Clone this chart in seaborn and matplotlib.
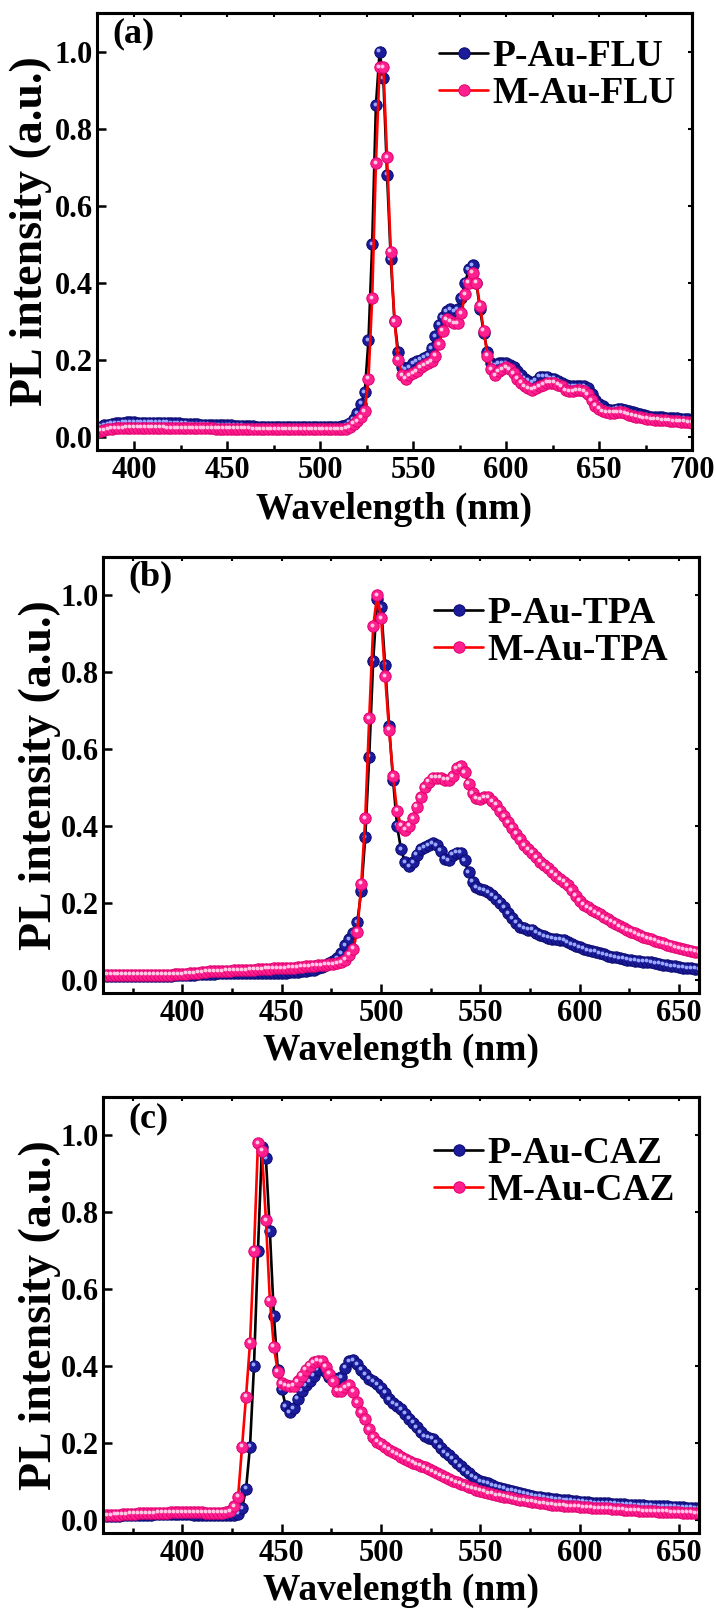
import numpy as np
import pandas as pd
import matplotlib
matplotlib.use("Agg")
import matplotlib.pyplot as plt
import matplotlib.transforms as mtransforms
from matplotlib.ticker import MultipleLocator, NullLocator
import seaborn as sns

# ---------------- data ----------------
WL_A = np.arange(380, 701, 2)
WL_BC = np.arange(360, 661, 2)

P_AU_FLU = [
    0.022, 0.026, 0.029, 0.031, 0.033, 0.034, 0.035, 0.036, 0.037, 0.037,  # 380
    0.037, 0.036, 0.036, 0.036, 0.036, 0.036, 0.036, 0.036, 0.036, 0.036,  # 400
    0.035, 0.035, 0.034, 0.033, 0.033, 0.032, 0.032, 0.032, 0.031, 0.031,  # 420
    0.031, 0.030, 0.030, 0.030, 0.030, 0.029, 0.029, 0.028, 0.028, 0.028,  # 440
    0.027, 0.027, 0.027, 0.026, 0.026, 0.026, 0.026, 0.025, 0.025, 0.025,  # 460
    0.025, 0.025, 0.025, 0.025, 0.025, 0.025, 0.025, 0.025, 0.025, 0.025,  # 480
    0.025, 0.025, 0.025, 0.025, 0.025, 0.026, 0.027, 0.030, 0.036, 0.045,  # 500
    0.060, 0.085, 0.115, 0.250, 0.500, 0.860, 1.000, 0.930, 0.680, 0.460,  # 520
    0.300, 0.220, 0.180, 0.175, 0.180, 0.190, 0.195, 0.200, 0.205, 0.210,  # 540
    0.230, 0.260, 0.290, 0.310, 0.325, 0.330, 0.325, 0.330, 0.360, 0.400,  # 560
    0.435, 0.445, 0.400, 0.330, 0.270, 0.220, 0.190, 0.185, 0.190, 0.190,  # 580
    0.190, 0.185, 0.180, 0.170, 0.160, 0.150, 0.145, 0.140, 0.145, 0.155,  # 600
    0.155, 0.155, 0.150, 0.150, 0.145, 0.140, 0.135, 0.130, 0.130, 0.130,  # 620
    0.130, 0.130, 0.125, 0.110, 0.095, 0.085, 0.078, 0.072, 0.070, 0.070,  # 640
    0.072, 0.072, 0.070, 0.066, 0.063, 0.060, 0.058, 0.056, 0.054, 0.052,  # 660
    0.050, 0.050, 0.050, 0.049, 0.048, 0.047, 0.047, 0.046, 0.046, 0.045,  # 680
    0.044,                                                                  # 700
]
M_AU_FLU = [
    0.012, 0.015, 0.017, 0.019, 0.020, 0.021, 0.022, 0.022, 0.023, 0.023,  # 380
    0.023, 0.023, 0.023, 0.023, 0.023, 0.023, 0.023, 0.023, 0.023, 0.022,  # 400
    0.022, 0.022, 0.022, 0.022, 0.022, 0.021, 0.021, 0.021, 0.021, 0.021,  # 420
    0.021, 0.021, 0.020, 0.020, 0.020, 0.020, 0.020, 0.020, 0.020, 0.020,  # 440
    0.020, 0.020, 0.019, 0.019, 0.019, 0.019, 0.019, 0.019, 0.019, 0.019,  # 460
    0.019, 0.019, 0.019, 0.019, 0.019, 0.019, 0.019, 0.019, 0.019, 0.019,  # 480
    0.019, 0.019, 0.019, 0.019, 0.019, 0.019, 0.019, 0.020, 0.024, 0.033,  # 500
    0.040, 0.050, 0.065, 0.150, 0.360, 0.710, 0.960, 0.960, 0.725, 0.480,  # 520
    0.300, 0.200, 0.160, 0.150, 0.160, 0.165, 0.170, 0.180, 0.185, 0.190,  # 540
    0.195, 0.210, 0.240, 0.275, 0.305, 0.300, 0.295, 0.295, 0.320, 0.370,  # 560
    0.400, 0.425, 0.400, 0.340, 0.275, 0.210, 0.175, 0.160, 0.170, 0.175,  # 580
    0.180, 0.175, 0.165, 0.150, 0.140, 0.130, 0.125, 0.122, 0.125, 0.130,  # 600
    0.135, 0.140, 0.140, 0.140, 0.135, 0.130, 0.120, 0.118, 0.118, 0.120,  # 620
    0.120, 0.118, 0.110, 0.095, 0.080, 0.072, 0.066, 0.063, 0.062, 0.062,  # 640
    0.063, 0.063, 0.060, 0.057, 0.054, 0.052, 0.050, 0.048, 0.046, 0.045,  # 660
    0.044, 0.044, 0.043, 0.042, 0.041, 0.040, 0.040, 0.039, 0.038, 0.037,  # 680
    0.036,                                                                  # 700
]

P_AU_TPA = [
    0.010, 0.010, 0.010, 0.010, 0.010, 0.010, 0.010, 0.010, 0.010, 0.010,  # 360
    0.010, 0.010, 0.010, 0.010, 0.010, 0.010, 0.010, 0.010, 0.011, 0.011,  # 380
    0.011, 0.012, 0.013, 0.013, 0.014, 0.014, 0.015, 0.015, 0.015, 0.016,  # 400
    0.016, 0.016, 0.016, 0.017, 0.017, 0.017, 0.017, 0.017, 0.017, 0.017,  # 420
    0.018, 0.018, 0.018, 0.018, 0.018, 0.018, 0.018, 0.019, 0.019, 0.020,  # 440
    0.021, 0.022, 0.024, 0.026, 0.029, 0.033, 0.037, 0.042, 0.048, 0.055,  # 460
    0.068, 0.090, 0.105, 0.120, 0.150, 0.230, 0.370, 0.580, 0.830, 0.990,  # 480
    0.970, 0.820, 0.660, 0.520, 0.400, 0.340, 0.305, 0.295, 0.305, 0.325,  # 500
    0.340, 0.345, 0.350, 0.355, 0.350, 0.335, 0.315, 0.310, 0.325, 0.330,  # 520
    0.330, 0.310, 0.280, 0.255, 0.240, 0.235, 0.232, 0.228, 0.220, 0.210,  # 540
    0.200, 0.188, 0.172, 0.160, 0.148, 0.138, 0.133, 0.130, 0.130, 0.122,  # 560
    0.117, 0.113, 0.109, 0.106, 0.105, 0.104, 0.102, 0.097, 0.092, 0.088,  # 580
    0.084, 0.080, 0.077, 0.074, 0.072, 0.069, 0.066, 0.062, 0.060, 0.058,  # 600
    0.056, 0.054, 0.052, 0.050, 0.049, 0.048, 0.047, 0.046, 0.045, 0.043,  # 620
    0.041, 0.039, 0.037, 0.035, 0.034, 0.032, 0.031, 0.030, 0.029, 0.028,  # 640
    0.027,                                                                  # 660
]
M_AU_TPA = [
    0.013, 0.013, 0.013, 0.013, 0.013, 0.013, 0.013, 0.013, 0.013, 0.013,  # 360
    0.013, 0.013, 0.013, 0.013, 0.013, 0.013, 0.013, 0.013, 0.014, 0.014,  # 380
    0.014, 0.015, 0.016, 0.017, 0.018, 0.019, 0.020, 0.021, 0.021, 0.022,  # 400
    0.022, 0.023, 0.023, 0.024, 0.024, 0.025, 0.025, 0.026, 0.026, 0.027,  # 420
    0.027, 0.028, 0.028, 0.029, 0.029, 0.030, 0.030, 0.031, 0.031, 0.032,  # 440
    0.033, 0.034, 0.035, 0.036, 0.037, 0.038, 0.039, 0.040, 0.040, 0.042,  # 460
    0.045, 0.052, 0.065, 0.080, 0.125, 0.250, 0.420, 0.680, 0.920, 1.000,  # 480
    0.940, 0.790, 0.650, 0.530, 0.440, 0.400, 0.390, 0.400, 0.420, 0.450,  # 500
    0.475, 0.500, 0.515, 0.525, 0.525, 0.525, 0.520, 0.520, 0.530, 0.550,  # 520
    0.555, 0.540, 0.510, 0.485, 0.472, 0.470, 0.475, 0.475, 0.465, 0.455,  # 540
    0.440, 0.425, 0.410, 0.395, 0.380, 0.365, 0.350, 0.340, 0.330, 0.318,  # 560
    0.307, 0.298, 0.290, 0.280, 0.270, 0.262, 0.255, 0.245, 0.232, 0.218,  # 580
    0.205, 0.195, 0.188, 0.182, 0.176, 0.170, 0.163, 0.157, 0.151, 0.145,  # 600
    0.139, 0.134, 0.129, 0.125, 0.120, 0.116, 0.112, 0.108, 0.105, 0.101,  # 620
    0.098, 0.094, 0.091, 0.088, 0.085, 0.082, 0.079, 0.077, 0.075, 0.073,  # 640
    0.071,                                                                  # 660
]

P_AU_CAZ = [
    0.008, 0.009, 0.009, 0.010, 0.010, 0.011, 0.011, 0.012, 0.012, 0.012,  # 360
    0.013, 0.013, 0.013, 0.014, 0.014, 0.014, 0.014, 0.014, 0.014, 0.014,  # 380
    0.014, 0.014, 0.014, 0.013, 0.013, 0.013, 0.013, 0.012, 0.012, 0.012,  # 400
    0.012, 0.012, 0.012, 0.011, 0.015, 0.030, 0.080, 0.190, 0.400, 0.700,  # 420
    0.970, 0.940, 0.750, 0.530, 0.390, 0.340, 0.295, 0.280, 0.290, 0.315,  # 440
    0.335, 0.350, 0.360, 0.375, 0.390, 0.405, 0.385, 0.370, 0.368, 0.367,  # 460
    0.370, 0.395, 0.413, 0.415, 0.405, 0.390, 0.378, 0.367, 0.360, 0.352,  # 480
    0.342, 0.330, 0.313, 0.303, 0.296, 0.288, 0.276, 0.263, 0.252, 0.241,  # 500
    0.228, 0.217, 0.213, 0.210, 0.200, 0.187, 0.176, 0.167, 0.158, 0.148,  # 520
    0.139, 0.128, 0.120, 0.112, 0.106, 0.100, 0.097, 0.094, 0.089, 0.086,  # 540
    0.083, 0.080, 0.077, 0.075, 0.073, 0.070, 0.067, 0.065, 0.062, 0.060,  # 560
    0.059, 0.057, 0.055, 0.054, 0.053, 0.052, 0.051, 0.050, 0.049, 0.048,  # 580
    0.047, 0.046, 0.045, 0.044, 0.043, 0.043, 0.042, 0.042, 0.041, 0.041,  # 600
    0.040, 0.040, 0.039, 0.039, 0.038, 0.037, 0.037, 0.036, 0.036, 0.035,  # 620
    0.035, 0.034, 0.034, 0.033, 0.033, 0.032, 0.032, 0.031, 0.031, 0.030,  # 640
    0.030,                                                                  # 660
]
M_AU_CAZ = [
    0.011, 0.012, 0.012, 0.013, 0.013, 0.014, 0.014, 0.015, 0.015, 0.016,  # 360
    0.016, 0.017, 0.017, 0.017, 0.018, 0.018, 0.018, 0.019, 0.019, 0.019,  # 380
    0.019, 0.019, 0.019, 0.019, 0.019, 0.019, 0.018, 0.018, 0.018, 0.018,  # 400
    0.018, 0.019, 0.022, 0.035, 0.060, 0.190, 0.320, 0.460, 0.700, 0.980,  # 420
    0.960, 0.780, 0.570, 0.450, 0.385, 0.355, 0.350, 0.347, 0.348, 0.360,  # 440
    0.375, 0.390, 0.400, 0.410, 0.414, 0.413, 0.398, 0.380, 0.360, 0.335,  # 460
    0.335, 0.345, 0.350, 0.333, 0.305, 0.280, 0.262, 0.235, 0.215, 0.203,  # 480
    0.196, 0.188, 0.182, 0.176, 0.170, 0.164, 0.158, 0.153, 0.148, 0.144,  # 500
    0.140, 0.136, 0.131, 0.126, 0.121, 0.116, 0.111, 0.106, 0.101, 0.097,  # 520
    0.093, 0.089, 0.085, 0.081, 0.078, 0.075, 0.072, 0.069, 0.067, 0.064,  # 540
    0.062, 0.060, 0.058, 0.056, 0.053, 0.051, 0.050, 0.048, 0.046, 0.045,  # 560
    0.043, 0.042, 0.040, 0.039, 0.038, 0.037, 0.036, 0.035, 0.034, 0.034,  # 580
    0.033, 0.032, 0.032, 0.031, 0.030, 0.030, 0.029, 0.029, 0.028, 0.027,  # 600
    0.027, 0.026, 0.025, 0.025, 0.024, 0.023, 0.022, 0.022, 0.021, 0.021,  # 620
    0.020, 0.020, 0.020, 0.019, 0.019, 0.019, 0.018, 0.018, 0.018, 0.017,  # 640
    0.017,                                                                  # 660
]

PANELS = [
    dict(tag="(a)", wl=WL_A, p=P_AU_FLU, m=M_AU_FLU, names=("P-Au-FLU", "M-Au-FLU"), xlim=(380, 700)),
    dict(tag="(b)", wl=WL_BC, p=P_AU_TPA, m=M_AU_TPA, names=("P-Au-TPA", "M-Au-TPA"), xlim=(360, 660)),
    dict(tag="(c)", wl=WL_BC, p=P_AU_CAZ, m=M_AU_CAZ, names=("P-Au-CAZ", "M-Au-CAZ"), xlim=(360, 660)),
]

# ---------------- layout / style ----------------
W, H = 716, 1609
# axes boxes in pixels: left, top, right, bottom
BOXES = [(97, 13, 692, 450), (103, 557, 699, 993), (103, 1097, 699, 1533)]
YLAB_X = [-0.112, -0.106, -0.106]
XLAB_Y = [-0.135, -0.131, -0.131]
LEG_ANCHOR = [(0.575, 0.94), (0.556, 0.91), (0.556, 0.91)]
TAG_POS = [(0.025, 0.99), (0.042, 0.992), (0.042, 0.988)]

BLUE, BLUE_EDGE, BLUE_HI = "#1c1c9a", "#0a0a70", "#9aa8ff"
PINK, PINK_EDGE, PINK_HI = "#ff2090", "#e00070", "#ffc8e4"

sns.set_theme(style="ticks", rc={
    "axes.edgecolor": "black", "xtick.color": "black", "ytick.color": "black",
    "text.color": "black", "axes.labelcolor": "black",
})
plt.rcParams["font.family"] = ["Liberation Serif", "DejaVu Serif"]
plt.rcParams["font.weight"] = "bold"
plt.rcParams["axes.labelweight"] = "bold"

fig = plt.figure(figsize=(W / 100, H / 100), dpi=100)
fig.patch.set_facecolor("white")

for i, pnl in enumerate(PANELS):
    l, t, r, b = BOXES[i]
    ax = fig.add_axes([l / W, 1 - b / H, (r - l) / W, (b - t) / H])
    ax.set_facecolor("white")
    n = len(pnl["wl"])
    assert len(pnl["p"]) == n and len(pnl["m"]) == n, (pnl["tag"], n, len(pnl["p"]), len(pnl["m"]))
    df = pd.DataFrame({"wl": pnl["wl"], "p": pnl["p"], "m": pnl["m"]})
    hl = mtransforms.offset_copy(ax.transData, fig=fig, x=-1.4, y=1.4, units="dots")
    series = [("p", "black", BLUE, BLUE_EDGE, BLUE_HI, pnl["names"][0]),
              ("m", "#ff0000", PINK, PINK_EDGE, PINK_HI, pnl["names"][1])]
    for col, lc, fc, ec, hc, name in series:
        sns.lineplot(data=df, x="wl", y=col, ax=ax, color=lc, linewidth=1.9,
                     marker="o", markersize=8.2, markerfacecolor=fc,
                     mec=ec, mew=0.7, errorbar=None, label=name)
        ax.plot(df["wl"], df[col], "o", ms=2.8, color=hc, mec="none",
                transform=hl, label="_nolegend_")

    ax.set_xlim(*pnl["xlim"])
    ax.set_ylim(-0.035, 1.10)
    ax.xaxis.set_major_locator(MultipleLocator(50))
    ax.xaxis.set_minor_locator(MultipleLocator(25))
    ax.yaxis.set_major_locator(MultipleLocator(0.2))
    ax.yaxis.set_minor_locator(NullLocator())
    ax.tick_params(which="major", direction="in", length=6.5, width=1.8, labelsize=22)
    ax.tick_params(which="minor", direction="in", length=3.5, width=1.8)
    ax.tick_params(axis="x", which="major", pad=4.5)
    ax.tick_params(axis="y", which="major", pad=3)
    for s in ax.spines.values():
        s.set_linewidth(2.2)
        s.set_color("black")

    sx = ax.secondary_xaxis("top")
    sx.xaxis.set_major_locator(MultipleLocator(25))
    sx.tick_params(direction="in", length=3, width=1.5, labeltop=False)
    sx.spines["top"].set_linewidth(2.2)
    sy = ax.secondary_yaxis("right")
    sy.yaxis.set_major_locator(MultipleLocator(0.2))
    sy.tick_params(direction="in", length=3, width=1.5, labelright=False)
    sy.spines["right"].set_linewidth(2.2)

    ax.set_xlabel("Wavelength (nm)", fontsize=27, fontweight="bold", va="center")
    ax.xaxis.set_label_coords(0.5, XLAB_Y[i])
    ax.set_ylabel("PL intensity (a.u.)", fontsize=33, fontweight="bold", va="center")
    ax.yaxis.set_label_coords(YLAB_X[i], 0.5)

    ax.legend(loc="upper left", bbox_to_anchor=LEG_ANCHOR[i], frameon=False,
              fontsize=27, handlelength=1.3, handletextpad=0.12,
              labelspacing=0.05, borderpad=0, borderaxespad=0)
    ax.text(TAG_POS[i][0], TAG_POS[i][1], pnl["tag"], transform=ax.transAxes,
            fontsize=26, fontweight="bold", ha="left", va="top")

fig.savefig("out.png", dpi=100, facecolor="white")
